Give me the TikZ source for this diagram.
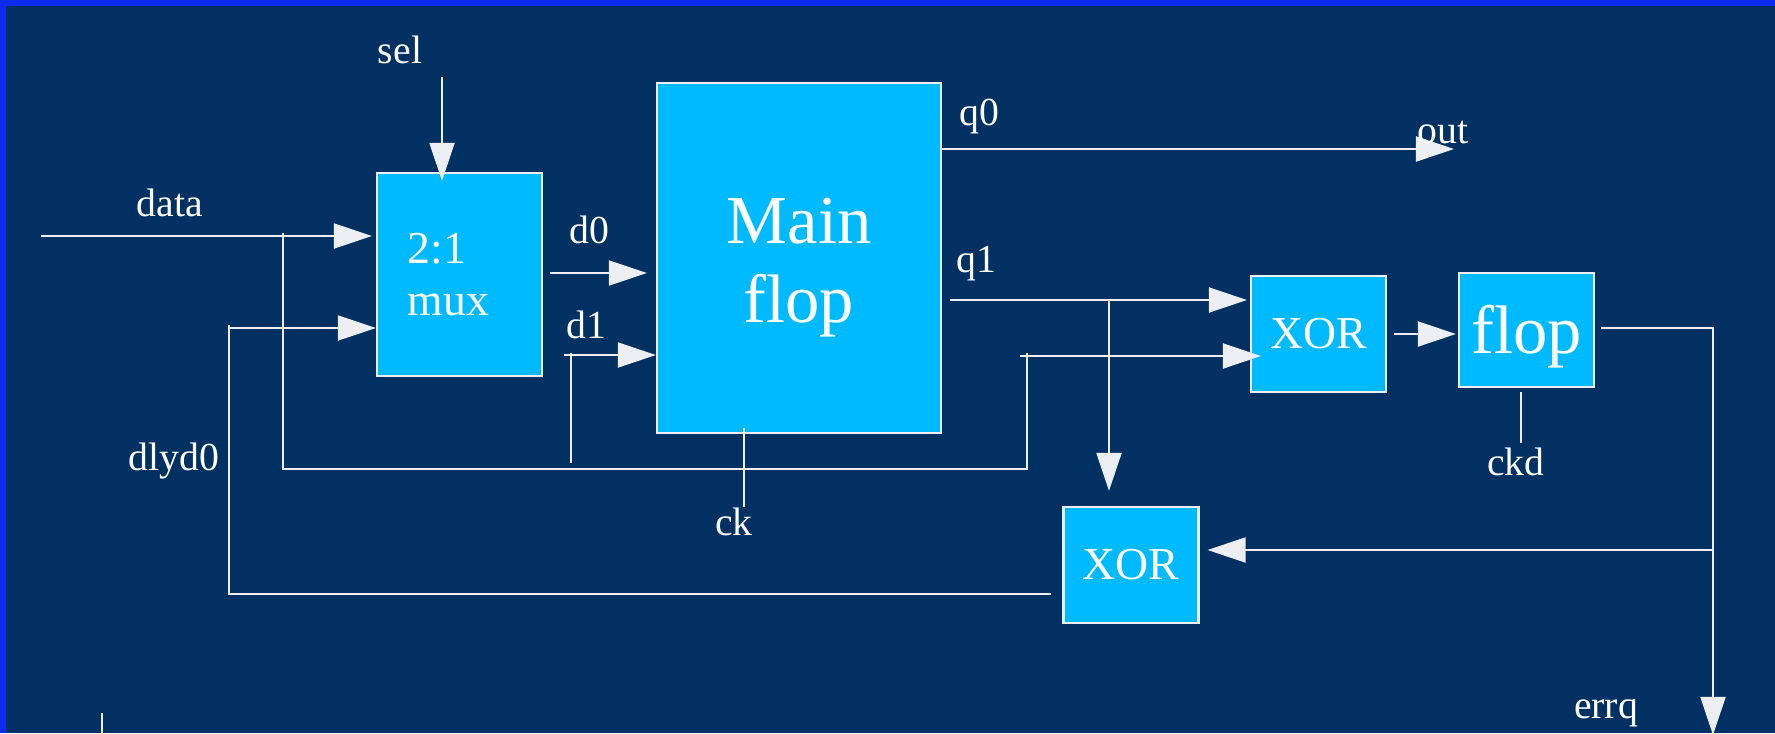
\documentclass[tikz,border=0pt]{standalone}
\usepackage{fontspec}
\setmainfont{Liberation Serif}
\usetikzlibrary{arrows.meta}
\definecolor{slidenavy}{RGB}{0,49,98}
\definecolor{slideedge}{RGB}{12,42,240}
\definecolor{gatefill}{RGB}{0,186,255}
\definecolor{wirewhite}{RGB}{236,238,242}
\tikzset{
  gatebox/.style={
    draw=wirewhite,
    fill=gatefill,
    line width=0.6pt,
    inner sep=0pt,
    text=white,
    align=center
  },
  smallgate/.style={
    gatebox,
    minimum width=1.35cm,
    minimum height=1.16cm,
    font=\fontsize{13}{15}\selectfont
  },
  wire/.style={
    draw=wirewhite,
    line width=0.6pt
  },
  wirearrow/.style={
    wire,
    -{Triangle[length=3.8mm,width=2.5mm]}
  },
  siglabel/.style={
    text=white,
    anchor=base,
    inner sep=0pt,
    font=\fontsize{11.3}{13}\selectfont
  }
}

\begin{document}
\begin{tikzpicture}[x=0.01cm, y=-0.01cm]
  \useasboundingbox (0,0) rectangle (1775,733);
  \fill[slidenavy] (0,0) rectangle (1775,733);
  \fill[slideedge] (0,0) rectangle (1775,6);
  \fill[slideedge] (0,0) rectangle (6,733);

  \node[gatebox, minimum width=1.65cm, minimum height=2.03cm, text width=1.03cm, align=left, font=\fontsize{13}{14.8}\selectfont] (mux) at (459.5,274.5) {2:1\\mux};
  \node[gatebox, minimum width=2.84cm, minimum height=3.5cm, font=\fontsize{19.5}{22.5}\selectfont] (mainflop) at (799,258) {\rule{0pt}{18.5pt}Main\\flop};
  \node[smallgate] (xora) at (1318.5,334) {XOR};
  \node[gatebox, minimum width=1.35cm, minimum height=1.14cm, text height=17.5pt, font=\fontsize{19.5}{22}\selectfont] (flopb) at (1526.5,330) {flop};
  \node[smallgate] (xorb) at (1131,565) {XOR};

  \node[siglabel] (sellab) at (400,63) {sel};
  \node[siglabel] (datalab) at (170,216) {data};
  \node[siglabel] (dlylab) at (174,470) {dlyd0};
  \node[siglabel] (dzerolab) at (589,243) {d0};
  \node[siglabel] (donelab) at (586,338) {d1};
  \node[siglabel] (cklab) at (734,535) {ck};
  \node[siglabel] (qzerolab) at (979,125) {q0};
  \node[siglabel] (qonelab) at (976,272) {q1};
  \node[siglabel] (ckdlab) at (1516,475) {ckd};
  \node[siglabel] (errqlab) at (1606,718) {errq};

  \coordinate (selTop) at (442,77);
  \coordinate (dataIn) at (41,236);
  \coordinate (tapData) at (283,233);
  \coordinate (busCorner) at (1027,469);
  \coordinate (busTop) at (1027,353);
  \coordinate (xorInB) at (1020,356);
  \coordinate (dlyCorner) at (229,594);
  \coordinate (dlyTop) at (229,325);
  \coordinate (dlyIn) at (228,328);
  \coordinate (dZero) at (550,273);
  \coordinate (dOne) at (564,355);
  \coordinate (dOneTap) at (571,353);
  \coordinate (ckTop) at (744,428);
  \coordinate (outTip) at (1454,149);
  \coordinate (qOne) at (950,300);
  \coordinate (qOneTap) at (1109,300);
  \coordinate (errCorner) at (1713,328);
  \coordinate (errTip) at (1713,735);
  \coordinate (fbTap) at (1713,550);
  \coordinate (ckdTop) at (1521,392);
  \coordinate (stubTop) at (102,713);

  \draw[wirearrow, shorten >=-0.09cm] (selTop) -- (selTop |- mux.north);
  \draw[wirearrow, shorten >=0.04cm] (dataIn) -- (dataIn -| mux.west);
  \draw[wire] (tapData) |- (busCorner) -- (busTop);
  \draw[wirearrow, shorten >=-0.11cm] (xorInB) -- (xorInB -| xora.west);
  \draw[wire, shorten <=0.11cm] (xorb.west |- dlyCorner) -- (dlyCorner) -- (dlyTop);
  \draw[wirearrow] (dlyIn) -- (dlyIn -| mux.west);
  \draw[wirearrow, shorten >=0.09cm] (dZero) -- (dZero -| mainflop.west);
  \draw[wirearrow] (dOne) -- (dOne -| mainflop.west);
  \draw[wire] (dOneTap) -- ++(0,110);
  \draw[wire] (ckTop) -- (ckTop |- cklab.north);
  \draw[wirearrow] (mainflop.east |- outTip) -- (outTip);
  \node[siglabel] (outlab) at (1443,143) {out};
  \draw[wirearrow, shorten >=0.03cm] (qOne) -- (qOne -| xora.west);
  \draw[wirearrow, shorten >=0.15cm] (qOneTap) -- (qOneTap |- xorb.north);
  \draw[wirearrow, shorten <=0.07cm, shorten >=0.02cm] (xora.east) -- (xora.east -| flopb.west);
  \draw[wirearrow, shorten <=0.06cm] (flopb.east |- errCorner) -- (errCorner) -- (errTip);
  \draw[wirearrow, shorten >=0.08cm] (fbTap) -- (fbTap -| xorb.east);
  \draw[wire, shorten >=0.04cm] (ckdTop) -- (ckdTop |- ckdlab.north);
  \draw[wire] (stubTop) -- ++(0,25);
\end{tikzpicture}
\end{document}
